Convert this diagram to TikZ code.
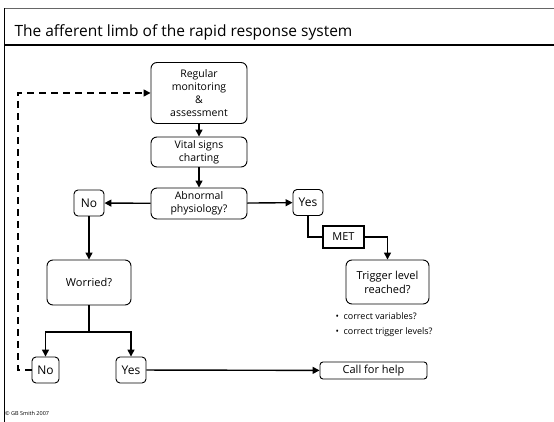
\documentclass[tikz,border=0pt]{standalone}
\usepackage{fontspec}
\setmainfont{Open Sans}
\usepackage{tikz}
\usetikzlibrary{arrows.meta,positioning,calc}

\begin{document}
\begin{tikzpicture}[
    x=1pt, y=-1pt,
    box/.style={draw, rounded corners=6pt, line width=0.9pt, inner sep=0pt, align=center, font=\fontsize{10.5}{13}\selectfont},
    ans/.style={box, rounded corners=4pt, minimum width=30pt, minimum height=26pt, font=\fontsize{12}{14}\selectfont},
    conn/.style={line width=1.4pt},
    arr/.style={conn, -{Triangle[length=7pt,width=7pt]}},
    lbl/.style={font=\fontsize{9}{11}\selectfont, anchor=west}
]
\useasboundingbox (0,0) rectangle (554,422);

% title frame
\draw[line width=1.4pt, black!60] (4,8.5) -- (554,8.5);
\draw[line width=1pt] (4,8.5) -- (4,422);
\draw[line width=2pt] (4,45) -- (554,45);
\node[anchor=base west, font=\fontsize{15.5}{18}\selectfont] (title) at (11,37) {The afferent limb of the rapid response system};

% central column
\node[box, minimum width=96pt, minimum height=61pt] (reg) at (199,93) {Regular\\monitoring\\\&\\assessment};
\node[box, minimum width=96pt, minimum height=30pt] (vital) at (199,152) {Vital signs\\charting};
\node[box, minimum width=96pt, minimum height=31pt] (abn) at (199,203.5) {Abnormal\\physiology?};
\draw[arr] (reg) -- (vital);
\draw[arr] (vital) -- (abn);

% no branch
\node[ans] (no1) at (89,203) {No};
\node[box, minimum width=84pt, minimum height=45pt, font=\fontsize{11}{13}\selectfont] (worr) at (89,282.5) {Worried?};
\node[ans, minimum width=27pt] (no2) at (45.5,370) {No};
\node[ans] (yes2) at (131,370) {Yes};
\coordinate (split) at (89,332);
\draw[arr] (abn) -- (no1);
\draw[arr] (no1) -- (worr);
\draw[conn] (worr) -- (split);
\draw[arr] (split) -| (no2);
\draw[arr] (split) -| (yes2);

% yes branch
\node[ans] (yes1) at (308,202.5) {Yes};
\node[draw, line width=1.4pt, minimum width=41pt, minimum height=22pt, inner sep=0pt, font=\fontsize{11}{13}\selectfont] (met) at (343.5,237) {MET};
\node[box, minimum width=83pt, minimum height=44pt, font=\fontsize{11}{14}\selectfont] (trig) at (387.5,282) {Trigger level\\reached?};
\draw[arr] (abn) -- (yes1);
\draw[conn] (yes1) |- (met);
\draw[arr] (met) -| (trig);
\node[lbl] (var) at (332,316) {\textbullet\ \ correct variables?};
\node[lbl] (lev) at (332,332) {\textbullet\ \ correct trigger levels?};

% call for help
\node[box, rounded corners=3pt, minimum width=107pt, minimum height=17pt, font=\fontsize{11}{13}\selectfont] (help) at (373.5,370.5) {Call for help};
\draw[arr] (yes2) -- (help);

% loop back
\coordinate (loop) at (18,93);
\draw[arr, dashed, dash pattern=on 7pt off 5pt] (no2) -| (loop) -- (reg);

\node[anchor=base west, font=\fontsize{5.5}{7}\selectfont, inner sep=0pt] (copy) at (5,415) {\textcopyright\ GB Smith 2007};
\end{tikzpicture}
\end{document}
